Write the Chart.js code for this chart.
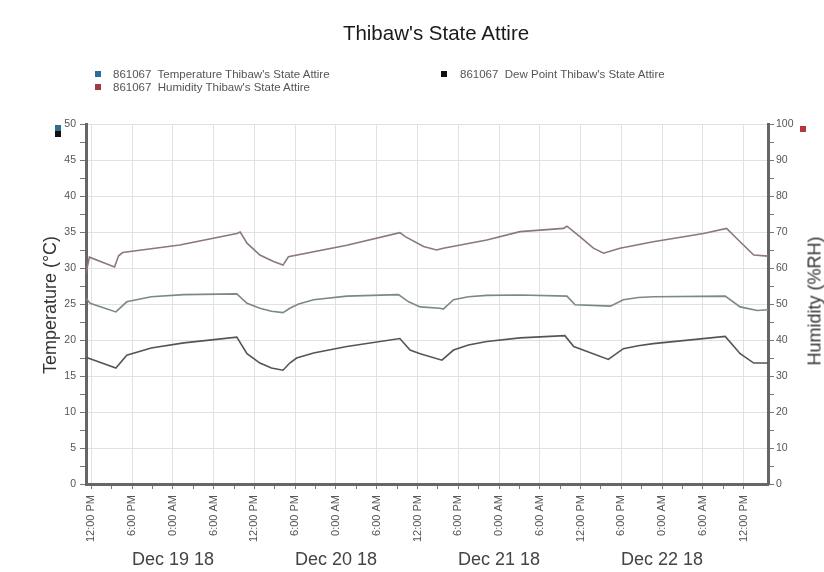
<!DOCTYPE html>
<html>
<head>
<meta charset="utf-8">
<title>Thibaw's State Attire</title>
<script src="https://cdn.jsdelivr.net/npm/chart.js@4.4.1/dist/chart.umd.min.js"></script>
<style>
  html, body { margin: 0; padding: 0; background: #fff; }
  #wrap { position: relative; width: 824px; height: 572px; font-family: "Liberation Sans", Arial, sans-serif; overflow: hidden; }
  #chart { position: absolute; left: 0; top: 0; }
  .title { position: absolute; left: 436px; top: 21px; transform: translateX(-50%); font-size: 20.5px; color: #1a1a1a; white-space: nowrap; }
  .leg { position: absolute; font-size: 11.5px; color: #555; white-space: pre; line-height: 13px; transform: translateY(-50%); }
  .sw { position: absolute; width: 6px; height: 6px; }
  .axt { position: absolute; font-size: 18px; color: #333; white-space: nowrap; transform: translate(-50%, -50%) rotate(-90deg); }
</style>
</head>
<body>
<div id="wrap">
  <canvas id="chart" width="824" height="572"></canvas>
  <div class="title">Thibaw's State Attire</div>

  <div class="sw" style="left:95px;top:71px;background:#2f6d98"></div>
  <div class="leg" style="left:113px;top:74px">861067  Temperature Thibaw's State Attire</div>
  <div class="sw" style="left:95px;top:84px;background:#a23a42"></div>
  <div class="leg" style="left:113px;top:87px">861067  Humidity Thibaw's State Attire</div>
  <div class="sw" style="left:441px;top:71px;background:#111"></div>
  <div class="leg" style="left:460px;top:74px">861067  Dew Point Thibaw's State Attire</div>

  <div class="axt" style="left:50px;top:305px">Temperature (°C)</div>
  <div class="axt" style="left:815px;top:301px">Humidity (%RH)</div>

  <!-- series markers at the top of each value axis -->
  <div class="sw" style="left:55px;top:125px;background:#2f6d98"></div>
  <div class="sw" style="left:55px;top:131px;background:#111"></div>
  <div class="sw" style="left:800px;top:126px;background:#b8343e"></div>
</div>
<script>
// Time is in hours from midnight at the start of Dec 19 2018.
const timeMin = -12.8;
const timeMax = 87.6;

const dayTicks = [0, 24, 48, 72];
const dayLabels = ['Dec 19 18', 'Dec 20 18', 'Dec 21 18', 'Dec 22 18'];

const temperatureHours  = [-12.8, -12.2, -8.4, -6.8, -3.2, 1.6, 9.4, 10.9, 12.8, 14.5, 16.2, 17.2, 18.5, 20.7, 25.6, 33.2, 34.7, 36.4, 39.3, 39.8, 41.3, 43.5, 46.2, 51.1, 58.0, 59.2, 64.4, 66.3, 68.5, 70.7, 81.3, 83.5, 86.0, 87.6];
const temperatureValues = [25.8, 25.1, 23.9, 25.3, 26.0, 26.3, 26.4, 25.1, 24.4, 24.0, 23.8, 24.4, 25.0, 25.6, 26.1, 26.3, 25.3, 24.6, 24.4, 24.3, 25.6, 26.0, 26.2, 26.25, 26.1, 24.9, 24.7, 25.6, 25.9, 26.0, 26.1, 24.6, 24.1, 24.2];

const humidityHours  = [-12.8, -12.3, -8.6, -8.0, -7.4, 1.0, 9.4, 9.9, 10.9, 12.8, 14.8, 16.2, 17.0, 25.6, 33.4, 34.2, 36.9, 38.8, 39.8, 46.2, 51.1, 57.5, 58.0, 59.9, 61.9, 63.4, 65.8, 70.7, 78.1, 81.5, 83.0, 85.5, 87.6];
const humidityValues = [58.5, 63.0, 60.3, 63.4, 64.3, 66.4, 69.6, 70.0, 66.9, 63.6, 61.8, 60.8, 63.1, 66.3, 69.8, 68.7, 66.0, 65.0, 65.5, 67.8, 70.1, 71.0, 71.6, 68.7, 65.5, 64.1, 65.5, 67.3, 69.6, 71.0, 68.2, 63.6, 63.3];

const dewPointHours  = [-12.8, -12.2, -8.4, -6.8, -3.2, 1.6, 9.4, 10.9, 12.8, 14.5, 16.2, 17.2, 18.2, 20.7, 25.6, 33.4, 34.9, 36.4, 39.6, 41.3, 43.5, 46.2, 51.1, 57.7, 59.0, 64.1, 66.3, 68.5, 70.7, 81.3, 83.5, 85.5, 87.6];
const dewPointValues = [17.6, 17.4, 16.1, 17.9, 18.9, 19.6, 20.4, 18.1, 16.8, 16.1, 15.8, 16.8, 17.5, 18.2, 19.1, 20.2, 18.6, 18.1, 17.2, 18.6, 19.3, 19.8, 20.3, 20.6, 19.1, 17.3, 18.8, 19.2, 19.5, 20.5, 18.1, 16.8, 16.8];

const temperatureTicks = [];
for (let v = 0; v <= 50; v += 2.5) temperatureTicks.push(v);
const humidityTicks = [];
for (let v = 0; v <= 100; v += 5) humidityTicks.push(v);
const hourTicks = [];
for (let v = -12; v <= 84; v += 3) hourTicks.push(v);

function points(xs, ys) {
  return xs.map((x, i) => ({ x: x, y: ys[i] }));
}
function clockLabel(h) {
  const hod = ((h % 24) + 24) % 24;
  if (hod === 0) return '0:00 AM';
  if (hod === 6) return '6:00 AM';
  if (hod === 12) return '12:00 PM';
  if (hod === 18) return '6:00 PM';
  return '';
}
const GRID = '#e1e1e1';
const AXIS = '#666';
const TICK_TEXT = '#555';
const NONE = 'rgba(0,0,0,0)';

new Chart(document.getElementById('chart'), {
  type: 'line',
  data: {
    datasets: [
      { label: '861067 Humidity Thibaw\'s State Attire', data: points(humidityHours, humidityValues), yAxisID: 'yHum', borderColor: '#8c7878', borderWidth: 1.6, pointRadius: 0, tension: 0 },
      { label: '861067 Temperature Thibaw\'s State Attire', data: points(temperatureHours, temperatureValues), yAxisID: 'yTemp', borderColor: '#7c8888', borderWidth: 1.6, pointRadius: 0, tension: 0 },
      { label: '861067 Dew Point Thibaw\'s State Attire', data: points(dewPointHours, dewPointValues), yAxisID: 'yTemp', borderColor: '#555555', borderWidth: 1.6, pointRadius: 0, tension: 0 }
    ]
  },
  options: {
    responsive: false,
    animation: false,
    layout: { padding: { top: 124, left: 0, right: 0, bottom: 0 } },
    plugins: { legend: { display: false }, title: { display: false }, tooltip: { enabled: false } },
    scales: {
      x: {
        type: 'linear', position: 'bottom', weight: 1,
        min: timeMin, max: timeMax,
        afterBuildTicks: s => { s.ticks = hourTicks.map(v => ({ value: v })); },
        afterFit: s => { s.height = 62; },
        grid: {
          color: c => (c.tick && c.tick.value % 6 === 0) ? GRID : NONE,
          tickColor: '#777', tickLength: 5
        },
        border: { color: AXIS, width: 3 },
        ticks: {
          autoSkip: false, minRotation: 90, maxRotation: 90, padding: 6,
          color: TICK_TEXT, font: { family: 'Liberation Sans', size: 11 },
          callback: v => clockLabel(v)
        }
      },
      xDay: {
        type: 'linear', position: 'bottom', weight: 2,
        min: timeMin, max: timeMax,
        afterBuildTicks: s => { s.ticks = dayTicks.map(v => ({ value: v })); },
        afterFit: s => { s.height = 26; },
        grid: { display: false, drawTicks: false },
        border: { display: false },
        ticks: {
          autoSkip: false, maxRotation: 0, minRotation: 0, padding: 3,
          color: '#444', font: { family: 'Liberation Sans', size: 18 },
          callback: (v, i) => dayLabels[i]
        }
      },
      yTemp: {
        type: 'linear', position: 'left',
        min: 0, max: 50,
        afterBuildTicks: s => { s.ticks = temperatureTicks.map(v => ({ value: v })); },
        afterFit: s => { s.width = 86; },
        grid: {
          color: c => (c.tick && c.tick.value % 5 === 0) ? GRID : NONE,
          tickColor: '#777', tickLength: 6
        },
        border: { color: AXIS, width: 3 },
        ticks: {
          padding: 4, color: TICK_TEXT, font: { family: 'Liberation Sans', size: 10.5 },
          callback: v => (v % 5 === 0 ? String(v) : '')
        }
      },
      yHum: {
        type: 'linear', position: 'right',
        min: 0, max: 100,
        afterBuildTicks: s => { s.ticks = humidityTicks.map(v => ({ value: v })); },
        afterFit: s => { s.width = 56; },
        grid: { drawOnChartArea: false, tickColor: '#777', tickLength: 6 },
        border: { color: AXIS, width: 3 },
        ticks: {
          padding: 2, color: TICK_TEXT, font: { family: 'Liberation Sans', size: 10.5 },
          callback: v => (v % 10 === 0 ? String(v) : '')
        }
      }
    }
  }
});
</script>
</body>
</html>
